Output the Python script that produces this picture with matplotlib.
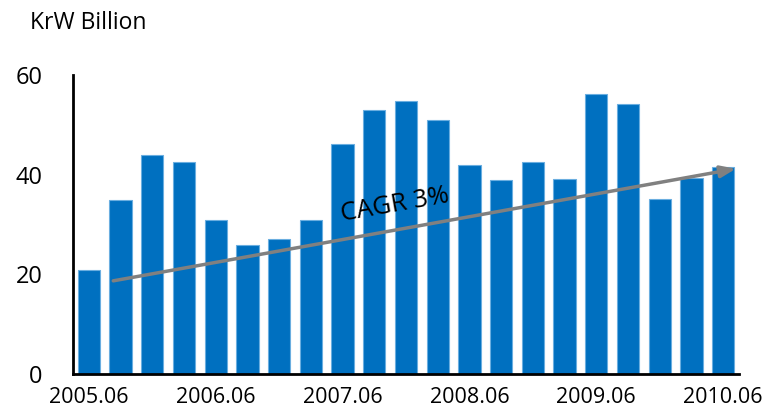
import matplotlib
matplotlib.use("Agg")
import matplotlib.pyplot as plt

plt.rcParams['font.family'] = ['Open Sans', 'DejaVu Sans']

# quarterly values, KrW billion
periods = ["2005.06", "2005.09", "2005.12", "2006.03", "2006.06", "2006.09", "2006.12",
           "2007.03", "2007.06", "2007.09", "2007.12", "2008.03", "2008.06", "2008.09",
           "2008.12", "2009.03", "2009.06", "2009.09", "2009.12", "2010.03", "2010.06"]
values = [20.9, 34.9, 43.9, 42.5, 31.0, 25.8, 27.1, 30.9, 46.1, 53.0, 54.8,
          50.9, 41.9, 38.9, 42.5, 39.1, 56.3, 54.2, 35.1, 39.3, 41.5]
yticks = [0, 20, 40, 60]
trend_start = (0.77, 18.7)
trend_end = (20.4, 41.2)

fig = plt.figure(figsize=(7.65, 4.08), dpi=100)
ax = fig.add_axes([0.0954, 0.0833, 0.8706, 0.7327])

x = list(range(len(values)))
ax.bar(x, values, width=0.7, color="#0070C0", edgecolor="#6AAEE0", linewidth=0.8)

ax.set_xlim(-0.5, len(values) - 0.5)
ax.set_ylim(0, 60)
ax.set_yticks(yticks)
ax.set_yticklabels([str(v) for v in yticks], fontsize=17)
shown = [i for i in x if i % 4 == 0]
ax.set_xticks(shown)
ax.set_xticklabels([periods[i] for i in shown], fontsize=15.5)
ax.tick_params(axis="y", length=0, pad=22)
ax.tick_params(axis="x", length=0, pad=9)
for s in ["top", "right"]:
    ax.spines[s].set_visible(False)
ax.spines["left"].set_linewidth(2)
ax.spines["bottom"].set_linewidth(2)

ax.annotate("", xy=trend_end, xytext=trend_start,
            arrowprops=dict(arrowstyle="-|>,head_length=0.9,head_width=0.35",
                            color="#808080", lw=2.5, shrinkA=0, shrinkB=0))
ax.text(9.66, 33.9, "CAGR 3%", fontsize=18.5, rotation=10, ha="center", va="center")

fig.text(30 / 765, 1 - 23 / 408, "KrW Billion", fontsize=16.5, ha="left", va="center")

fig.savefig("out.png", dpi=100)
